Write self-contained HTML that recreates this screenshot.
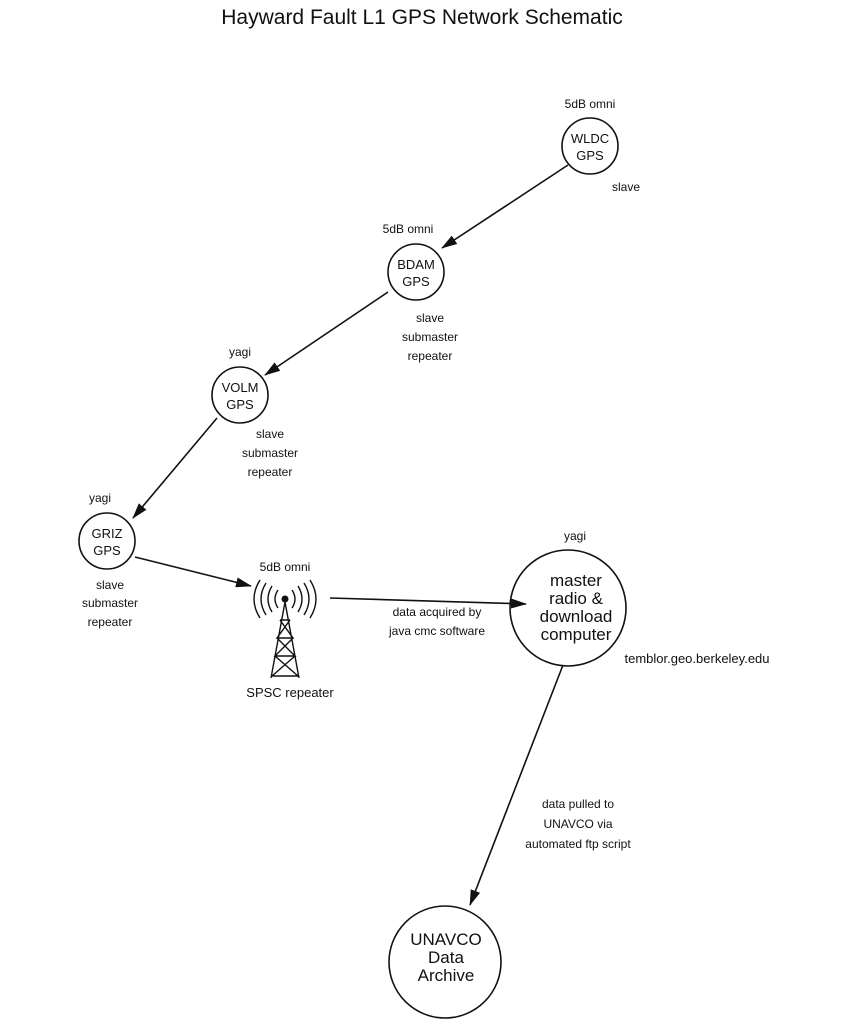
<!DOCTYPE html>
<html><head><meta charset="utf-8"><style>body{margin:0;background:#fff}svg{display:block}text{font-family:"Liberation Sans",sans-serif;fill:#111}</style></head><body>
<svg width="844" height="1024" viewBox="0 0 844 1024" xmlns="http://www.w3.org/2000/svg">
<defs><marker id="a" markerWidth="16" markerHeight="10" refX="15" refY="5" orient="auto" markerUnits="userSpaceOnUse" viewBox="0 0 16 10"><path d="M0,0 L16,5 L0,10 z" fill="#111"/></marker></defs>
<text x="422" y="24" font-size="21" text-anchor="middle">Hayward Fault L1 GPS Network Schematic</text>
<g fill="none" stroke="#111" stroke-width="1.6">
<circle cx="590" cy="146" r="28"/>
<circle cx="416" cy="272" r="28"/>
<circle cx="240" cy="395" r="28"/>
<circle cx="107" cy="541" r="28"/>
<circle cx="568" cy="608" r="58"/>
<circle cx="445" cy="962" r="56"/>
<line x1="568" y1="165" x2="442" y2="248" marker-end="url(#a)"/>
<line x1="388" y1="292" x2="265" y2="375" marker-end="url(#a)"/>
<line x1="217" y1="418" x2="133" y2="518" marker-end="url(#a)"/>
<line x1="135" y1="557" x2="251" y2="586" marker-end="url(#a)"/>
<line x1="330" y1="598" x2="526" y2="604" marker-end="url(#a)"/>
<line x1="563" y1="665" x2="470" y2="905" marker-end="url(#a)"/>
</g>
<g fill="none" stroke="#111" stroke-width="1.4">
<path d="M278,590 q-6,9 0,18 M272,586 q-8,13 0,26 M266,583 q-10,16 0,32 M260,580 q-12,19 0,38"/>
<path d="M292,590 q6,9 0,18 M298,586 q8,13 0,26 M304,583 q10,16 0,32 M310,580 q12,19 0,38"/>
<path d="M285,602 L271,678 M285,602 L299,678 M280,620 L290,620 M277,638 L293,638 M275,656 L295,656 M272,676 L298,676 M280,620 L293,638 L277,638 L290,620 M277,638 L295,656 L275,656 L293,638 M275,656 L298,676 M295,656 L272,676"/>
</g>
<circle cx="285" cy="599" r="3.5" fill="#111"/>
<g font-size="12" text-anchor="middle">
<text x="590" y="108">5dB omni</text>
<text x="626" y="191">slave</text>
<text x="408" y="233">5dB omni</text>
<text x="430" y="322">slave</text><text x="430" y="341">submaster</text><text x="430" y="360">repeater</text>
<text x="240" y="356">yagi</text>
<text x="270" y="438">slave</text><text x="270" y="457">submaster</text><text x="270" y="476">repeater</text>
<text x="100" y="502">yagi</text>
<text x="110" y="589">slave</text><text x="110" y="607">submaster</text><text x="110" y="626">repeater</text>
<text x="285" y="571">5dB omni</text>
<text x="437" y="616">data acquired by</text><text x="437" y="635">java cmc software</text>
<text x="575" y="540">yagi</text>
<text x="578" y="808">data pulled to</text><text x="578" y="828">UNAVCO via</text><text x="578" y="848">automated ftp script</text>
</g>
<g font-size="13" text-anchor="middle">
<text x="590" y="143">WLDC</text><text x="590" y="160">GPS</text>
<text x="416" y="269">BDAM</text><text x="416" y="286">GPS</text>
<text x="240" y="392">VOLM</text><text x="240" y="409">GPS</text>
<text x="107" y="538">GRIZ</text><text x="107" y="555">GPS</text>
<text x="290" y="697">SPSC repeater</text>
<text x="697" y="663">temblor.geo.berkeley.edu</text>
</g>
<g font-size="17" text-anchor="middle">
<text x="576" y="586">master</text><text x="576" y="604">radio &amp;</text><text x="576" y="622">download</text><text x="576" y="640">computer</text>
<text x="446" y="945">UNAVCO</text><text x="446" y="963">Data</text><text x="446" y="981">Archive</text>
</g>
</svg>
</body></html>
